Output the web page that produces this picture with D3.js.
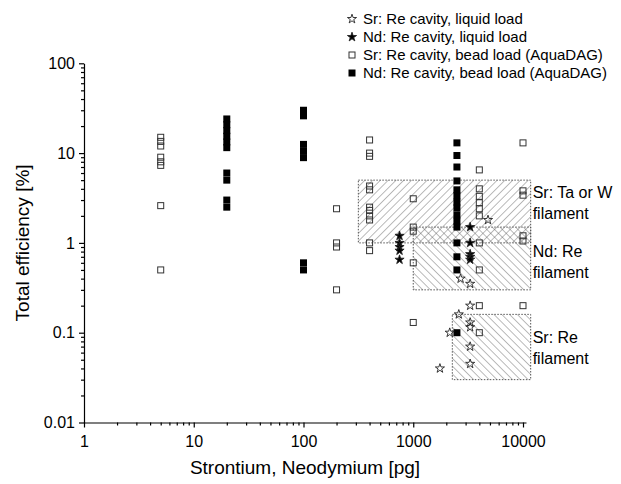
<!DOCTYPE html>
<html>
<head>
<meta charset="utf-8">
<script src="https://cdn.jsdelivr.net/npm/d3@7/dist/d3.min.js"></script>
<style>
  body { margin: 0; background: #fff; }
  svg text { font-family: "Liberation Sans", Arial, sans-serif; fill: #000; }
</style>
</head>
<body>
<div id="chart"></div>
<script>
// Sr: Re cavity, liquid load  [pg, %]
const srLiquid = [
  [4800, 1.8], [2700, 0.4], [3300, 0.35], [3300, 0.2], [2600, 0.16], [3300, 0.13],
  [3300, 0.115], [2150, 0.1], [3300, 0.07], [3300, 0.045], [1750, 0.04]
]
// Nd: Re cavity, liquid load
const ndLiquid = [
  [750, 1.2], [750, 1.0], [750, 0.9], [750, 0.82], [750, 0.65],
  [3300, 1.5], [3300, 1.0], [3300, 0.75], [3300, 0.7], [3300, 0.65]
]
// Sr: Re cavity, bead load (AquaDAG)
const srBead = [
  [5, 15], [5, 13.5], [5, 12], [5, 9], [5, 8], [5, 7.3], [5, 2.6], [5, 0.5],
  [200, 2.4], [200, 1.0], [200, 0.9], [200, 0.3],
  [400, 14], [400, 10], [400, 9.2], [400, 4.3], [400, 3.9], [400, 2.5], [400, 2.3],
  [400, 2.0], [400, 1.8], [400, 1.0], [400, 0.82],
  [1000, 3.1], [1000, 1.5], [1000, 1.35], [1000, 0.6], [1000, 0.13],
  [4000, 6.5], [4000, 4.0], [4000, 3.3], [4000, 2.8], [4000, 2.4], [4000, 2.0],
  [4000, 1.0], [4000, 0.5], [4000, 0.2], [4000, 0.1],
  [10000, 13], [10000, 3.8], [10000, 3.4], [10000, 1.2], [10000, 1.05], [10000, 0.2]
]
// Nd: Re cavity, bead load (AquaDAG)
const ndBead = [
  [20, 24], [20, 20.7], [20, 17.8], [20, 15.4], [20, 13.3], [20, 11.5],
  [20, 6.0], [20, 5.0], [20, 3.0], [20, 2.5],
  [100, 30], [100, 26], [100, 12.5], [100, 10.5], [100, 8.9], [100, 0.6], [100, 0.5],
  [2500, 13], [2500, 9.4], [2500, 7.0], [2500, 4.9], [2500, 3.9], [2500, 3.35],
  [2500, 2.85], [2500, 2.45], [2500, 2.05], [2500, 1.75], [2500, 1.5], [2500, 1.0],
  [2500, 0.7], [2500, 0.5], [2500, 0.1]
]

// filament ranges (shaded boxes)
const boxLabels = [['Sr: Ta or W', 'filament'], ['Nd: Re', 'filament'], ['Sr: Re', 'filament']]
const boxX = [[316, 11750], [1000, 11750], [2270, 11750]]
const boxY = [[1, 5], [0.3, 1.5], [0.03, 0.16]]
const boxHatch = ['up', 'down', 'down']

const xTicks = [1, 10, 100, 1000, 10000]
const yTicks = [0.01, 0.1, 1, 10, 100]
const legendNames = [
  'Sr: Re cavity, liquid load',
  'Nd: Re cavity, liquid load',
  'Sr: Re cavity, bead load (AquaDAG)',
  'Nd: Re cavity, bead load (AquaDAG)'
]

const svgWidth = 621, svgHeight = 484
const svg = d3.select('#chart').append('svg')
  .attr('width', svgWidth)
  .attr('height', svgHeight)

const x = d3.scaleLog().domain([1, 10650]).range([84, 526])
const y = d3.scaleLog().domain([0.01, 100]).range([422.5, 63.3])

// minor tick values for each decade
function minors(lo, hi) {
  let out = []
  for (let d = lo; d < hi; d *= 10) {
    for (let k = 2; k <= 9; k++) out.push(d * k)
  }
  return out
}

// hatch patterns
const defs = svg.append('defs')
function hatch(id, angle) {
  defs.append('pattern')
    .attr('id', id)
    .attr('patternUnits', 'userSpaceOnUse')
    .attr('width', 5.5).attr('height', 5.5)
    .attr('patternTransform', 'rotate(' + angle + ')')
    .append('line')
    .attr('x1', 0).attr('y1', 0).attr('x2', 0).attr('y2', 5.5)
    .attr('stroke', '#555').attr('stroke-width', 0.8)
}
hatch('hatch-up', 45)
hatch('hatch-down', -45)

// boxes
const boxes = svg.append('g').attr('class', 'boxes')
boxX.forEach((bx, i) => {
  boxes.append('rect')
    .attr('x', x(bx[0]))
    .attr('y', y(boxY[i][1]))
    .attr('width', x(bx[1]) - x(bx[0]))
    .attr('height', y(boxY[i][0]) - y(boxY[i][1]))
    .attr('fill', 'url(#hatch-' + boxHatch[i] + ')')
    .attr('stroke', '#555')
    .attr('stroke-width', 1)
    .attr('stroke-dasharray', '1.5,1.5')
})

// box labels
const labelDy = [18, 30, 29]
boxLabels.forEach((lines, i) => {
  const t = boxes.append('text')
    .attr('x', x(boxX[i][1]) + 2)
    .attr('y', y(boxY[i][1]) + labelDy[i])
    .attr('font-size', 16)
  lines.forEach((s, j) => {
    t.append('tspan').attr('x', x(boxX[i][1]) + 2).attr('dy', j === 0 ? 0 : 20.5).text(s)
  })
})

// axes
const xAxis = svg.append('g').attr('transform', 'translate(0,' + y(0.01) + ')')
xAxis.call(d3.axisBottom(x).tickValues(xTicks).tickFormat(d3.format('d'))
  .tickSize(5).tickSizeOuter(0).tickPadding(8))
xAxis.append('g').call(d3.axisBottom(x).tickValues(minors(1, 10000)).tickFormat('')
  .tickSize(3).tickSizeOuter(0))
  .select('.domain').remove()

const yAxis = svg.append('g').attr('transform', 'translate(' + x(1) + ',0)')
yAxis.call(d3.axisLeft(y).tickValues(yTicks).tickFormat(d => String(d))
  .tickSize(5).tickSizeOuter(0).tickPadding(4))
yAxis.append('g').call(d3.axisLeft(y).tickValues(minors(0.01, 100)).tickFormat('')
  .tickSize(3).tickSizeOuter(0))
  .select('.domain').remove()

svg.selectAll('.tick text')
  .attr('font-size', 16)
  .attr('font-family', '"Liberation Sans", Arial, sans-serif')
svg.selectAll('.domain, .tick line').attr('stroke', '#000').attr('stroke-width', 1.2)

// axis titles
svg.append('text')
  .attr('x', (x.range()[0] + x.range()[1]) / 2)
  .attr('y', 474)
  .attr('text-anchor', 'middle')
  .attr('font-size', 19)
  .text('Strontium, Neodymium [pg]')

svg.append('text')
  .attr('transform', 'translate(29,' + (y.range()[0] + y.range()[1]) / 2 + ') rotate(-90)')
  .attr('text-anchor', 'middle')
  .attr('font-size', 19)
  .text('Total efficiency [%]')

// markers
const star = d3.symbol().type(d3.symbolStar).size(26)
const marks = svg.append('g').attr('class', 'marks')

function drawSquares(data, cls, size, fill, stroke) {
  marks.selectAll('rect.' + cls).data(data).join('rect')
    .attr('class', cls)
    .attr('x', d => x(d[0]) - size / 2)
    .attr('y', d => y(d[1]) - size / 2)
    .attr('width', size).attr('height', size)
    .attr('fill', fill)
    .attr('stroke', stroke)
    .attr('stroke-width', 1)
}
function drawStars(data, cls, fill) {
  marks.selectAll('path.' + cls).data(data).join('path')
    .attr('class', cls)
    .attr('d', star)
    .attr('transform', d => 'translate(' + x(d[0]) + ',' + y(d[1]) + ')')
    .attr('fill', fill)
    .attr('stroke', '#222')
    .attr('stroke-width', 0.9)
}

drawSquares(srBead, 'srBead', 6, 'none', '#333')
drawSquares(ndBead, 'ndBead', 7, '#000', 'none')
drawStars(srLiquid, 'srLiquid', 'none')
drawStars(ndLiquid, 'ndLiquid', '#000')

// legend
const legend = svg.append('g').attr('class', 'legend')
const legY = d3.scalePoint().domain(legendNames).range([19, 73])
legendNames.forEach((name, i) => {
  const cy = legY(name)
  const cx = 352
  if (i < 2) {
    legend.append('path').attr('d', star)
      .attr('transform', 'translate(' + cx + ',' + cy + ')')
      .attr('fill', i === 1 ? '#000' : 'none')
      .attr('stroke', '#222').attr('stroke-width', 0.9)
  } else {
    const s = i === 3 ? 7 : 6
    legend.append('rect')
      .attr('x', cx - s / 2).attr('y', cy - s / 2)
      .attr('width', s).attr('height', s)
      .attr('fill', i === 3 ? '#000' : 'none')
      .attr('stroke', i === 3 ? 'none' : '#333')
  }
  legend.append('text')
    .attr('x', 363).attr('y', cy + 5)
    .attr('font-size', 15)
    .text(name)
})
</script>
</body>
</html>
